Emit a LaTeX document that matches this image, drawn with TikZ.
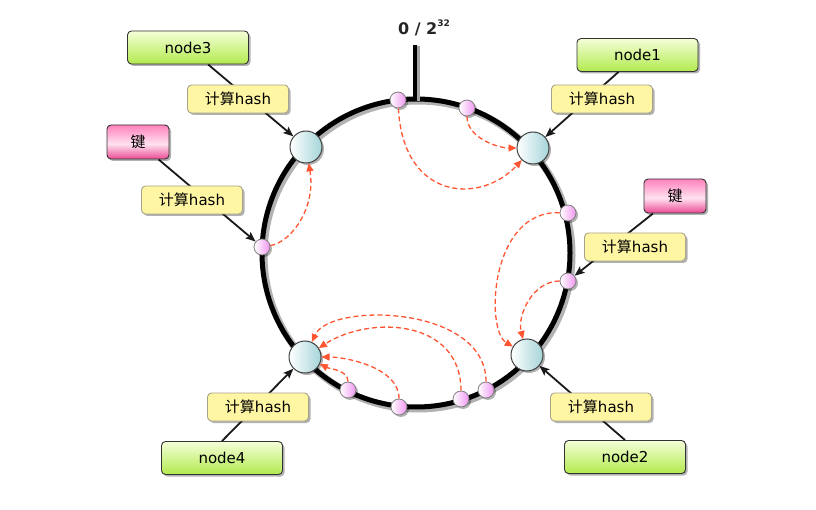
\documentclass[tikz,border=0pt]{standalone}
\usepackage{fontspec}
\setmainfont{DejaVu Sans}
\newfontfamily\cjk{Noto Sans CJK SC}
\usetikzlibrary{arrows.meta,shadows}
\definecolor{grtop}{HTML}{F4FFD8}
\definecolor{grbot}{HTML}{B2EA4E}
\definecolor{hashfill}{HTML}{FFF6A4}
\definecolor{hashdraw}{HTML}{A8A48C}
\definecolor{keyB}{HTML}{EC4A94}
\definecolor{keyM}{HTML}{FFE2F0}
\definecolor{keyT}{HTML}{FF82BC}
\definecolor{cyanish}{HTML}{A4D4D8}
\definecolor{pinkish}{HTML}{F096F0}
\definecolor{redash}{HTML}{FF5532}
\pgfdeclareverticalshading{keyshade}{100bp}{color(0bp)=(keyB); color(25bp)=(keyB); color(47bp)=(keyM); color(75bp)=(keyT); color(100bp)=(keyT)}
\pgfdeclarelayer{bg}
\pgfsetlayers{bg,main}
\tikzset{
  shad/.style={drop shadow={shadow xshift=2pt, shadow yshift=-2pt, fill=black, opacity=0.3}},
  nodebox/.style={shad, draw=black!80, line width=0.9pt, rounded corners=4pt, top color=grtop, bottom color=grbot, minimum width=121pt, minimum height=33pt, inner sep=0pt, font=\fontsize{15}{18}\selectfont},
  hashbox/.style={shad, draw=hashdraw, line width=0.9pt, rounded corners=4pt, fill=hashfill, minimum width=101pt, minimum height=28pt, inner sep=0pt, font=\fontsize{15}{18}\selectfont},
  keybox/.style={shad, draw=black!80, line width=0.9pt, rounded corners=4pt, shade, shading=keyshade, minimum width=62pt, minimum height=34pt, inner sep=0pt, font=\fontsize{15}{18}\selectfont\cjk},
  bignode/.style={shad, circle, draw=black!75, line width=1pt, left color=white, right color=cyanish, minimum size=32pt, inner sep=0pt},
  ringpt/.style={shad, circle, draw=black!50, line width=0.8pt, left color=white, right color=pinkish, minimum size=16pt, inner sep=0pt},
  conn/.style={draw=black!90, line width=1.8pt, -{Stealth[length=10pt,width=8pt,inset=2pt]}},
  hop/.style={draw=redash, line width=1.3pt, dash pattern=on 5pt off 3pt, -{Triangle[length=8pt,width=7pt]}}
}
\begin{document}
\begin{tikzpicture}[x=1pt,y=-1pt]
\useasboundingbox (0,0) rectangle (816,510);
% ring
\begin{pgfonlayer}{bg}
\fill[white] (0,0) rectangle (816,510);
\draw[black!30, line width=7pt] (418,255) circle[radius=154];
\draw[black, line width=5pt] (416,253) circle[radius=154];
\draw[black!35, line width=3pt] (418.5,46) -- (418.5,101);
\draw[black, line width=4pt] (415,45) -- (415,100);
\end{pgfonlayer}
\node[font=\fontsize{16}{18}\selectfont\bfseries, text=black!85] (top) at (424,28) {0 / 2\raisebox{0.55em}{\fontsize{9}{9}\selectfont 32}};
% server nodes on ring
\node[bignode] (c3) at (306,147) {};
\node[bignode] (c1) at (533,148) {};
\node[bignode] (c4) at (305,357) {};
\node[bignode] (c2) at (527,355) {};
% points on ring
\node[ringpt] (p1) at (398,100) {};
\node[ringpt] (p2) at (467,108) {};
\node[ringpt] (p3) at (568,213) {};
\node[ringpt] (p4) at (568,281) {};
\node[ringpt] (p5) at (262,247) {};
\node[ringpt] (p6) at (348,390) {};
\node[ringpt] (p7) at (399,407) {};
\node[ringpt] (p8) at (461,399) {};
\node[ringpt] (p9) at (486,390) {};
% boxes
\node[nodebox] (n3) at (188,47.5) {node3};
\node[nodebox] (n1) at (637.5,55) {node1};
\node[nodebox] (n4) at (222,458) {node4};
\node[nodebox] (n2) at (625,457) {node2};
\node[keybox] (kL) at (138,142) {键};
\node[keybox] (kR) at (675,196) {键};
\node[hashbox] (h3) at (238,99) {{\cjk 计算}hash};
\node[hashbox] (h1) at (602,99) {{\cjk 计算}hash};
\node[hashbox] (hL) at (192,200) {{\cjk 计算}hash};
\node[hashbox] (hR) at (635,247) {{\cjk 计算}hash};
\node[hashbox] (h4) at (258,407) {{\cjk 计算}hash};
\node[hashbox] (h2) at (601,407) {{\cjk 计算}hash};
% connectors
\begin{pgfonlayer}{bg}
\draw[conn] (n3) -- (c3);
\draw[conn] (n1) -- (c1);
\draw[conn] (n4.north) -- (c4.225);
\draw[conn] (n2.north) -- (c2);
\draw[conn] (kL) -- (p5);
\draw[conn] (kR) -- (p4);
\end{pgfonlayer}
% dashed hops
\draw[hop] (p1) .. controls +(5,100) and +(-53,57) .. (c1);
\draw[hop] (p2) .. controls +(0,30) and +(-35,0) .. (c1);
\draw[hop] (p5) .. controls +(30,-5) and +(10,60) .. (c3);
\draw[hop] (p3) .. controls +(-78,-3) and +(-42,-25) .. (c2);
\draw[hop] (p4) .. controls +(-35,0) and +(-10,-40) .. (c2);
\draw[hop] (p6) .. controls +(0,-20) and +(25,12) .. (c4);
\draw[hop] (p7) .. controls +(0,-40) and +(40,0) .. (c4);
\draw[hop] (p8) .. controls +(0,-80) and +(65,-42) .. (c4);
\draw[hop] (p9) .. controls +(0,-85) and +(25,-55) .. (c4);
\end{tikzpicture}
\end{document}
